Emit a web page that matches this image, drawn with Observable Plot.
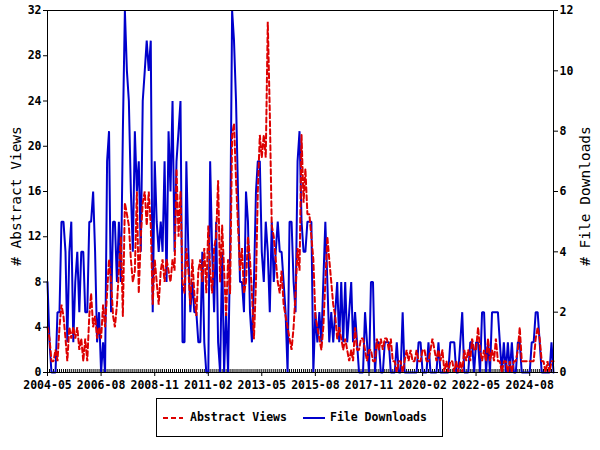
<!DOCTYPE html>
<html><head><meta charset="utf-8">
<script src="https://cdn.jsdelivr.net/npm/d3@7"></script>
<script src="https://cdn.jsdelivr.net/npm/@observablehq/plot@0.6"></script>
<style>
body{margin:0;background:#fff;}
#wrap{position:relative;width:600px;height:450px;font-family:"DejaVu Sans Mono",monospace;background:#fff;}
#wrap svg.plot{display:block;position:absolute;left:0;top:0;}
.ylab{position:absolute;font-size:14.5px;white-space:nowrap;transform:translate(-50%,-50%) rotate(-90deg);color:#000;}
#legend{position:absolute;left:156px;top:398px;width:287px;height:39px;border:1px solid #000;box-sizing:border-box;}
#legend span{position:absolute;top:11px;font-size:11.5px;font-weight:bold;white-space:nowrap;}
</style></head>
<body>
<div id="wrap"></div>
<script>
// Monthly series, starting 2004-05
const startMonth = "2004-05";
const endMonth = "2025-08";
const seriesNames = ["Abstract Views", "File Downloads"];
const abstractViews = [
  4, 3, 1, 1, 2, 1, 4, 6, 5, 3, 1, 4,
  3, 4, 3, 4, 2, 3, 1, 3, 1, 5, 7, 4,
  5, 3, 4, 3, 6, 4, 7, 10, 8, 5, 4, 6,
  9, 12, 5, 15, 14, 13, 10, 8, 9, 16, 7, 12,
  15, 16, 13, 16, 13, 6, 10, 8, 6, 9, 10, 8,
  10, 9, 8, 10, 9, 18, 12, 16, 8, 7, 11, 9,
  6, 10, 7, 5, 9, 10, 8, 11, 7, 13, 9, 7,
  11, 12, 17, 8, 13, 9, 5, 10, 7, 21, 22, 17,
  13, 9, 11, 7, 8, 12, 10, 7, 3, 8, 16, 21,
  19, 21, 19, 31, 23, 13, 12, 10, 8, 7, 9, 6,
  5, 4, 3, 2, 4, 7, 11, 9, 21, 15, 18, 14,
  14, 12, 10, 5, 4, 3, 2, 4, 8, 12, 10, 8,
  6, 5, 3, 4, 3, 2, 3, 2, 1, 2, 1, 4,
  2, 2, 3, 3, 2, 1, 2, 2, 1, 1, 3, 2,
  3, 2, 3, 3, 2, 3, 1, 1, 0, 1, 1, 0,
  1, 2, 1, 2, 1, 1, 2, 1, 1, 2, 2, 1,
  1, 2, 3, 2, 1, 2, 1, 2, 0, 1, 0, 1,
  1, 0, 1, 0, 1, 0, 2, 1, 2, 1, 3, 2,
  2, 4, 2, 1, 2, 1, 3, 1, 2, 1, 3, 1,
  1, 0, 1, 1, 0, 1, 0, 1, 1, 2, 4, 1,
  1, 1, 1, 1, 1, 1, 3, 4, 3, 1, 1, 0,
  1, 0, 1, 1
];
const fileDownloads = [
  3, 1, 0, 0, 0, 2, 2, 5, 5, 4, 1, 4,
  5, 1, 3, 4, 2, 4, 4, 2, 2, 5, 5, 6,
  4, 1, 2, 0, 1, 0, 7, 8, 2, 5, 5, 3,
  5, 3, 8, 12, 10, 9, 6, 4, 8, 6, 7, 4,
  9, 10, 11, 10, 11, 2, 7, 5, 4, 5, 4, 7,
  3, 8, 6, 9, 4, 7, 8, 9, 1, 1, 7, 4,
  2, 3, 2, 2, 1, 1, 4, 1, 0, 0, 7, 4,
  2, 5, 1, 0, 4, 0, 2, 0, 4, 12, 11, 9,
  6, 3, 3, 2, 6, 5, 2, 1, 3, 6, 7, 7,
  4, 3, 5, 4, 2, 5, 3, 4, 5, 4, 4, 3,
  2, 0, 5, 5, 3, 2, 7, 8, 5, 4, 4, 5,
  5, 5, 0, 2, 1, 2, 1, 3, 5, 3, 1, 2,
  1, 2, 3, 1, 3, 1, 3, 1, 2, 3, 1, 2,
  1, 0, 0, 0, 2, 1, 0, 3, 3, 0, 1, 1,
  0, 0, 1, 1, 1, 0, 0, 0, 1, 0, 0, 2,
  0, 0, 0, 0, 0, 0, 0, 1, 1, 0, 0, 0,
  1, 0, 0, 0, 0, 1, 0, 0, 0, 0, 0, 1,
  1, 1, 0, 0, 1, 2, 0, 0, 0, 1, 1, 0,
  1, 1, 0, 2, 2, 0, 1, 0, 2, 2, 2, 2,
  1, 0, 1, 0, 1, 0, 1, 0, 0, 1, 1, 0,
  0, 0, 0, 0, 1, 1, 2, 2, 1, 0, 0, 0,
  0, 0, 1, 0
];
const xTickLabels = ["2004-05","2006-08","2008-11","2011-02","2013-05","2015-08","2017-11","2020-02","2022-05","2024-08"];
const leftTicks = [0, 4, 8, 12, 16, 20, 24, 28, 32];
const rightTicks = [0, 2, 4, 6, 8, 10, 12];

const RED = "#dd0000", BLUE = "#0000cc";
const parseM = d3.utcParse("%Y-%m");
const start = parseM(startMonth), end = parseM(endMonth);
const months = d3.utcMonth.range(start, d3.utcMonth.offset(end, 1));
const rows = months.map((date, i) => ({date, views: abstractViews[i], downloads: fileDownloads[i]}));
const k = 32 / 12; // right axis (0–12) mapped onto left scale (0–32)

const chart = Plot.plot({
  width: 600, height: 400,
  marginLeft: 47, marginRight: 47, marginTop: 10, marginBottom: 28,
  style: {fontFamily: "'DejaVu Sans Mono', monospace", fontSize: "11.5px", fontWeight: "bold", color: "#000", background: "#fff", overflow: "visible"},
  x: {type: "utc", domain: [start, end]},
  y: {domain: [0, 32]},
  marks: [
    Plot.tickX(months, {x: d => d, insetTop: 359, stroke: "#000"}),
    Plot.line(rows, {x: "date", y: d => d.downloads * k, stroke: BLUE, strokeWidth: 2, strokeLinejoin: "miter"}),
    Plot.line(rows, {x: "date", y: "views", stroke: RED, strokeWidth: 2, strokeDasharray: "5,3", strokeLinejoin: "miter"}),
    Plot.frame({stroke: "#000"}),
    Plot.axisX({ticks: xTickLabels.map(parseM), tickFormat: d3.utcFormat("%Y-%m"), tickSize: 4, tickPadding: 4, label: null}),
    Plot.axisY({ticks: leftTicks, tickSize: 4, tickPadding: 2, label: null}),
    Plot.axisY({anchor: "right", ticks: rightTicks.map(v => v * k), tickFormat: v => String(Math.round(v / k)), tickSize: 4, tickPadding: 2, label: null})
  ]
});
chart.classList.add("plot");
const wrap = document.getElementById("wrap");
wrap.appendChild(chart);

const l1 = document.createElement("div");
l1.className = "ylab"; l1.textContent = "# Abstract Views";
l1.style.left = "16px"; l1.style.top = "196px";
wrap.appendChild(l1);
const l2 = document.createElement("div");
l2.className = "ylab"; l2.textContent = "# File Downloads";
l2.style.left = "585px"; l2.style.top = "196px";
wrap.appendChild(l2);

const legend = document.createElement("div");
legend.id = "legend";
legend.innerHTML =
  '<svg width="287" height="39" style="position:absolute;left:-1px;top:-1px">' +
  '<line x1="7" x2="27" y1="20" y2="20" stroke="' + RED + '" stroke-width="2" stroke-dasharray="5,3"/>' +
  '<line x1="147" x2="169" y1="20" y2="20" stroke="' + BLUE + '" stroke-width="2"/></svg>' +
  '<span style="left:33px">' + seriesNames[0] + '</span>' +
  '<span style="left:173px">' + seriesNames[1] + '</span>';
wrap.appendChild(legend);
</script>
</body></html>
